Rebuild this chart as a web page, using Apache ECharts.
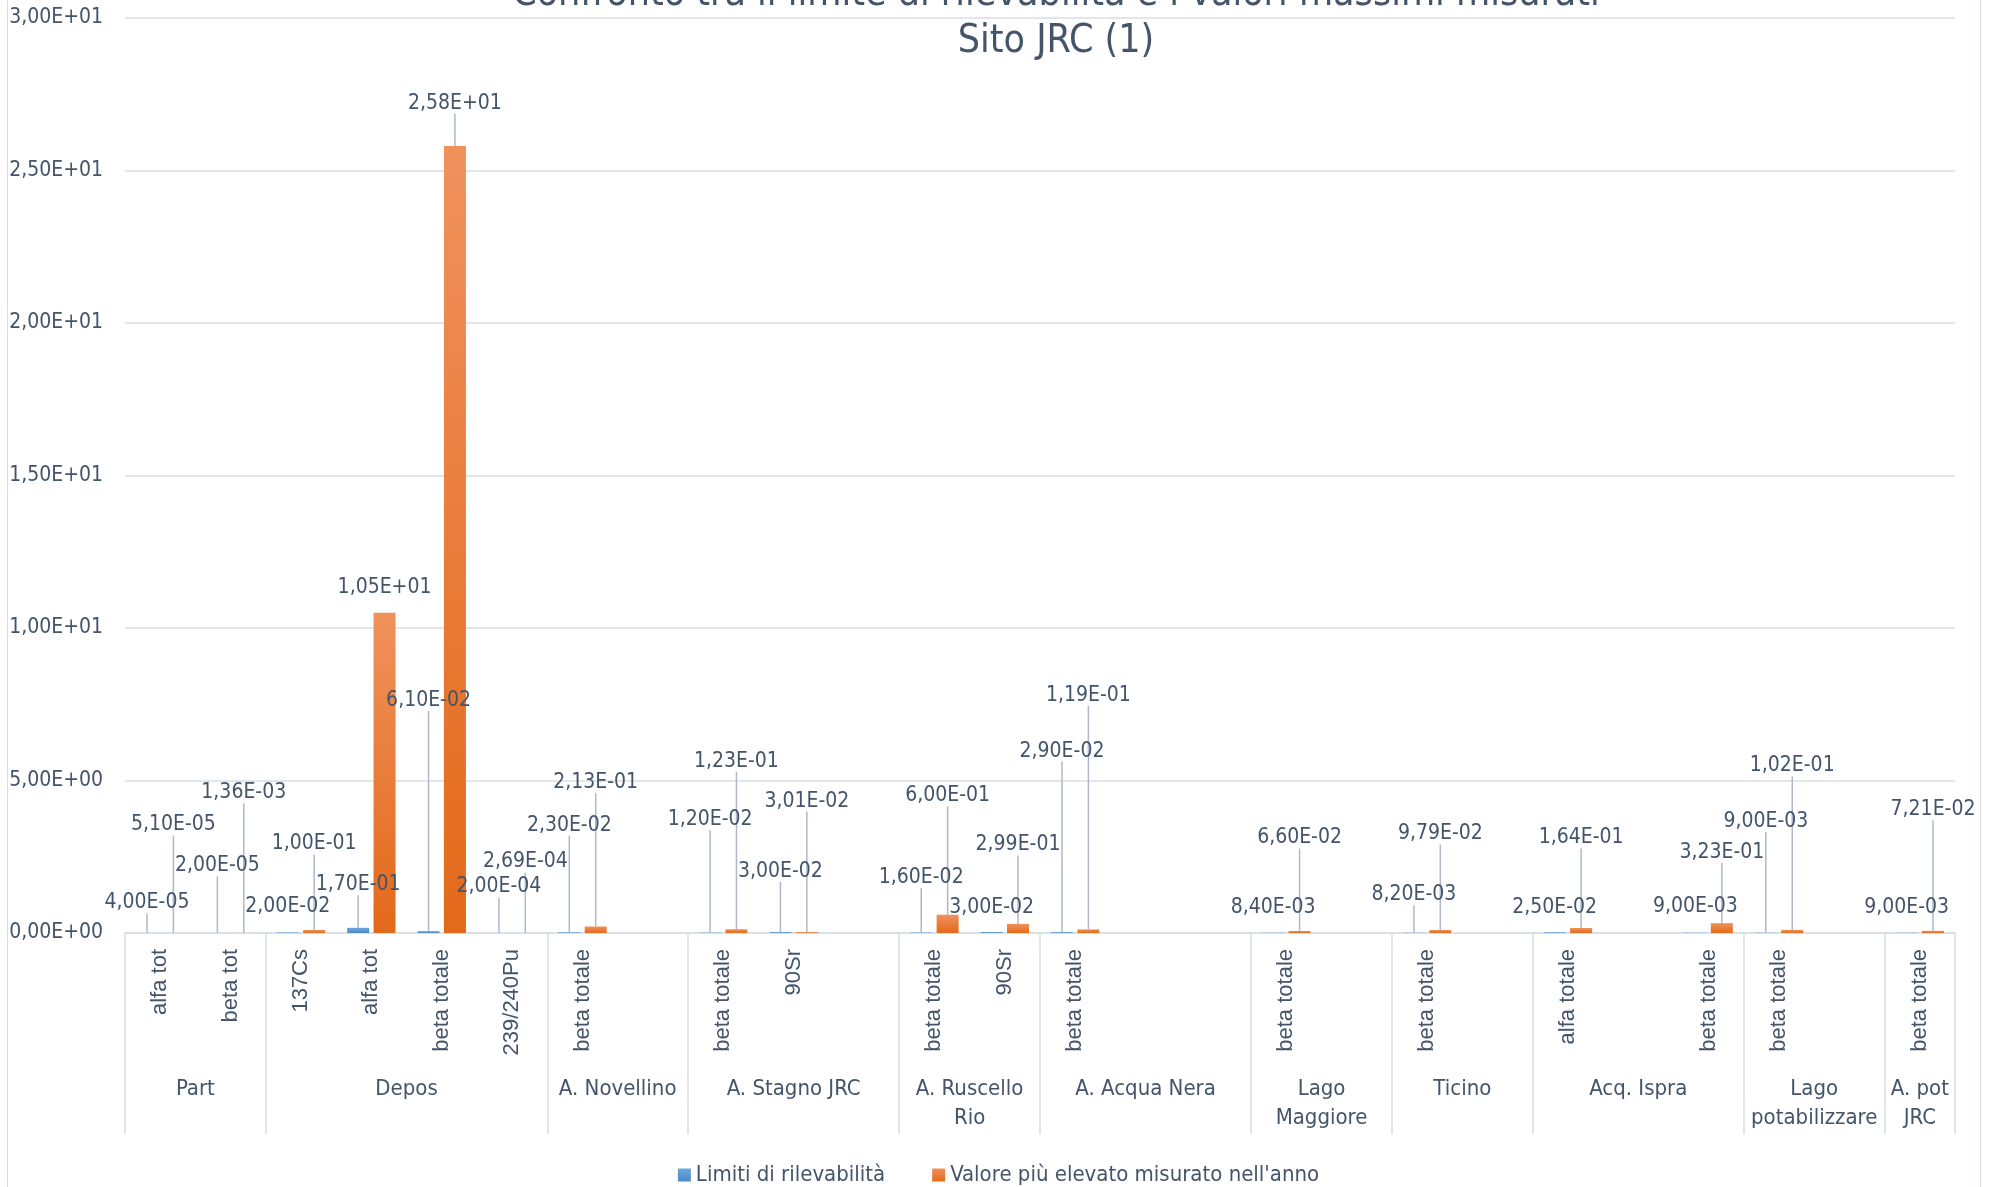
<!DOCTYPE html>
<html>
<head>
<meta charset="utf-8">
<script src="https://cdn.jsdelivr.net/npm/echarts@6/dist/echarts.min.js"></script>
<style>
  html, body { margin: 0; padding: 0; background: #fff; }
  #chart { position: absolute; left: 0; top: 0; width: 1997px; height: 1187px; }
  #frame { position: absolute; left: 7px; top: 0; width: 1972px; height: 1187px;
           border-left: 1.5px solid #D9DEE4; border-right: 1.5px solid #D9DEE4; pointer-events: none; }
</style>
</head>
<body>
<div id="chart"></div>
<div id="frame"></div>
<script>
const NARROW = "'Liberation Sans Narrow', 'Arial Narrow', 'DejaVu Sans Condensed', sans-serif"
const REGULAR = "'Liberation Sans', Arial, sans-serif"
const TEXT = '#44546A'
const LINE = '#D9DEE4'

// sotto-categorie (26 posizioni, alcune vuote come nel foglio Excel)
const categories = [
  'alfa tot', 'beta tot',
  '137Cs', 'alfa tot', 'beta totale', '239/240Pu',
  'beta totale', '',
  'beta totale', '90Sr', '',
  'beta totale', '90Sr',
  'beta totale', '', '',
  'beta totale', '',
  'beta totale', '',
  'alfa totale', '', 'beta totale',
  'beta totale', '',
  'beta totale',
]

const groups = ['Part', 'Depos', 'A. Novellino', 'A. Stagno JRC', 'A. Ruscello\nRio', 'A. Acqua Nera',
  'Lago\nMaggiore', 'Ticino', 'Acq. Ispra', 'Lago\npotabilizzare', 'A. pot\nJRC']
const groupSizes = [2, 4, 2, 3, 2, 3, 2, 2, 3, 2, 1]

const limiti = [4e-5, 2e-5, 2e-2, 1.7e-1, 6.1e-2, 2e-4, 2.3e-2, null, 1.2e-2, 3e-2, null, 1.6e-2, 3e-2,
  2.9e-2, null, null, 8.4e-3, null, 8.2e-3, null, 2.5e-2, null, 9e-3, 9e-3, null, 9e-3]
const valori = [5.1e-5, 1.36e-3, 1e-1, 10.5, 25.8, 2.69e-4, 2.13e-1, null, 1.23e-1, 3.01e-2, null, 6e-1, 2.99e-1,
  1.19e-1, null, null, 6.6e-2, null, 9.79e-2, null, 1.64e-1, null, 3.23e-1, 1.02e-1, null, 7.21e-2]

// spostamento verticale delle etichette sopra le barre (px), come spostate a mano in Excel
const liftLimiti = [30, 67, 26, 43, 231, 46, 107, null, 113, 61, null, 55, 25, 181, null, null, 25, null, 38, null, 25, null, 26, 111, null, 25]
const liftValori = [108, 140, 86, 25, 43, 71, 144, null, 168, 131, null, 119, 79, 234, null, null, 93, null, 96, null, 90, null, 71, 164, null, 121]

// bordi e centri dei gruppi sull'asse 0..26
const bounds = [0]
const centers = []
groupSizes.forEach((n) => {
  const start = bounds[bounds.length - 1]
  centers.push(start + n / 2)
  bounds.push(start + n)
})

const sci = (v) => {
  const [m, e] = Number(v).toExponential(2).split('e')
  const n = Math.abs(parseInt(e, 10))
  return m.replace('.', ',') + 'E' + (parseInt(e, 10) < 0 ? '-' : '+') + (n < 10 ? '0' + n : n)
}

const grad = (top, bottom) => new echarts.graphic.LinearGradient(0, 0, 0, 1, [
  { offset: 0, color: top }, { offset: 1, color: bottom },
])

const makeSeries = (name, values, lifts, color) => ({
  name,
  type: 'bar',
  barWidth: 22,
  barGap: '20%',
  itemStyle: { color },
  data: values.map((v, i) => ({
    value: v,
    labelLine: { show: lifts[i] != null && lifts[i] > 28 },
  })),
  label: {
    show: true,
    position: 'top',
    fontFamily: NARROW,
    fontSize: 21,
    color: TEXT,
    formatter: (p) => (p.value == null ? '' : sci(p.value)),
  },
  labelLine: { show: true, lineStyle: { color: '#ADB9CA', width: 1.5 } },
  labelLayout: (p) => {
    const lift = lifts[p.dataIndex]
    if (lift == null) return {}
    return {
      x: p.rect.x + p.rect.width / 2,
      y: p.rect.y - lift,
      align: 'center',
      verticalAlign: 'middle',
    }
  },
})

const chart = echarts.init(document.getElementById('chart'))

chart.setOption({
  animation: false,
  graphic: [
    {
      type: 'text', x: 1056, y: -5,
      style: { text: 'Confronto tra il limite di rilevabilità e i valori massimi misurati',
        font: '39px ' + NARROW, fill: TEXT, align: 'center', verticalAlign: 'middle' },
    },
    {
      type: 'text', x: 1056, y: 42,
      style: { text: 'Sito JRC (1)', font: '39px ' + NARROW, fill: TEXT, align: 'center', verticalAlign: 'middle' },
    },
  ],
  legend: {
    bottom: -4,
    left: 'center',
    icon: 'rect',
    itemWidth: 13,
    itemHeight: 13,
    itemGap: 47,
    textStyle: { fontFamily: NARROW, fontSize: 22, color: TEXT },
    data: ['Limiti di rilevabilità', 'Valore più elevato misurato nell\'anno'],
  },
  grid: { left: 125, right: 42, top: 18, bottom: 254 },
  xAxis: [
    {
      type: 'category',
      data: categories,
      axisLine: { lineStyle: { color: LINE, width: 1.5 } },
      axisTick: { show: false },
      axisLabel: { interval: 0, rotate: 90, margin: 16, fontFamily: REGULAR, fontSize: 22, color: TEXT },
    },
    {
      type: 'value',
      min: 0,
      max: categories.length,
      position: 'bottom',
      axisLine: { show: false },
      splitLine: { show: false },
      axisTick: { show: true, customValues: bounds, length: 201, lineStyle: { color: LINE, width: 1.5 } },
      axisLabel: {
        customValues: centers,
        margin: 142,
        fontFamily: NARROW,
        fontSize: 22,
        lineHeight: 29,
        color: TEXT,
        formatter: (v) => groups[centers.indexOf(v)] || '',
      },
    },
  ],
  yAxis: {
    type: 'value',
    min: 0,
    max: 30,
    interval: 5,
    axisLine: { show: false },
    axisTick: { show: false },
    splitLine: { lineStyle: { color: LINE, width: 1.5 } },
    axisLabel: { formatter: sci, margin: 22, fontFamily: NARROW, fontSize: 21, color: TEXT },
  },
  series: [
    makeSeries('Limiti di rilevabilità', limiti, liftLimiti, grad('#6FA7DC', '#4A87C7')),
    makeSeries('Valore più elevato misurato nell\'anno', valori, liftValori, grad('#F0915C', '#E3691A')),
  ],
})
</script>
</body>
</html>
